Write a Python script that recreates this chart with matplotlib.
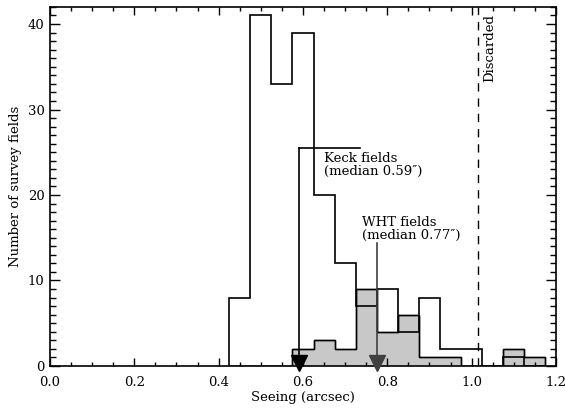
import numpy as np
import matplotlib
matplotlib.use("Agg")
import matplotlib.pyplot as plt
from matplotlib.ticker import MultipleLocator

# -----------------------------
# Histogram data (seeing in arcsec, bin width 0.05)
# -----------------------------
bin_start = 0.425
bin_width = 0.05
keck_counts = [8, 41, 33, 39, 20, 12, 7, 9, 4, 8, 2, 2, 0, 1, 0]
wht_counts = [0, 0, 0, 2, 3, 2, 9, 4, 6, 1, 1, 0, 0, 2, 1]

keck_median = 0.59
wht_median = 0.775
discard_cut = 1.015

keck_label = "Keck fields\n(median 0.59\u2033)"
wht_label = "WHT fields\n(median 0.77\u2033)"

edges = bin_start + bin_width * np.arange(len(keck_counts) + 1)

plt.rcParams['font.family'] = ['DejaVu Serif']
plt.rcParams['font.size'] = 9.5

fig = plt.figure(figsize=(5.65, 4.08), dpi=100)
ax = fig.add_axes([0.0885, 0.103, 0.8955, 0.88])

# WHT fields: filled grey
ax.stairs(wht_counts, edges, fill=True, facecolor='#c8c8c8',
          edgecolor='black', linewidth=1.0)
ax.stairs(wht_counts, edges, fill=False, color='black', linewidth=1.0)
# Keck fields: open
ax.stairs(keck_counts, edges, fill=False, color='black', linewidth=1.2)

# Keck median marker
ax.plot([keck_median, keck_median], [25.5, 1.0], color='black', lw=1.2)
ax.plot([keck_median, 0.735], [25.5, 25.5], color='black', lw=1.2)
ax.plot(keck_median, 0.3, marker='v', color='black', markersize=11,
        clip_on=False, zorder=5)
ax.text(0.65, 25.0, keck_label, ha='left', va='top', fontsize=9.5,
        linespacing=1.0)

# WHT median marker
ax.plot([wht_median, wht_median], [14.4, 1.0], color='#404040', lw=1.2)
ax.plot(wht_median, 0.3, marker='v', color='#404040', markersize=11,
        clip_on=False, zorder=5)
ax.text(0.74, 17.6, wht_label, ha='left', va='top', fontsize=9.5,
        linespacing=1.0)

# Discard threshold
ax.axvline(discard_cut, color='black', lw=1.0, ls=(0, (6, 5)))
ax.text(1.028, 41.2, "Discarded", rotation=90, ha='left', va='top',
        fontsize=9.5)

ax.set_xlim(0, 1.2)
ax.set_ylim(0, 42)
ax.xaxis.set_major_locator(MultipleLocator(0.2))
ax.xaxis.set_minor_locator(MultipleLocator(0.05))
ax.yaxis.set_major_locator(MultipleLocator(10))
ax.yaxis.set_minor_locator(MultipleLocator(1))
ax.xaxis.set_major_formatter(matplotlib.ticker.FormatStrFormatter('%.1f'))
ax.tick_params(which='both', direction='in', top=True, right=True, width=1.0)
ax.tick_params(axis='x', which='major', length=5.5, pad=7)
ax.tick_params(axis='x', which='minor', length=3)
ax.tick_params(axis='y', which='major', length=7.5, pad=4)
ax.tick_params(axis='y', which='minor', length=4.5)
for s in ax.spines.values():
    s.set_linewidth(1.2)

ax.set_xlabel("Seeing (arcsec)", labelpad=2)
ax.set_ylabel("Number of survey fields", labelpad=4)

fig.savefig("out.png", dpi=100)
